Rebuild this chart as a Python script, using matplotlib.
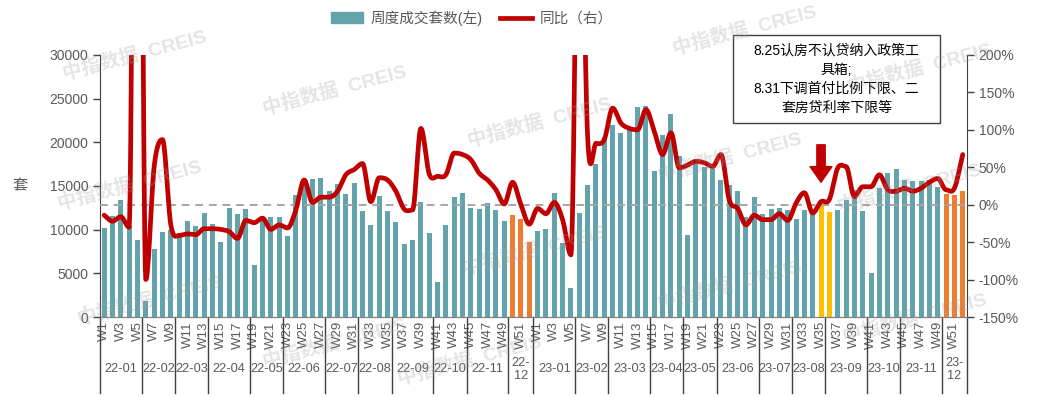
import numpy as np
import matplotlib
matplotlib.use("Agg")
import matplotlib.pyplot as plt
from matplotlib.patches import Patch, Rectangle
from matplotlib.lines import Line2D
import matplotlib.transforms as mtransforms

plt.rcParams['font.family'] = ['Liberation Sans', 'Noto Sans CJK SC', 'DejaVu Sans']
plt.rcParams['axes.unicode_minus'] = False

# months and number of weeks in each (2022 then 2023)
months = ['22-01', '22-02', '22-03', '22-04', '22-05', '22-06', '22-07', '22-08',
          '22-09', '22-10', '22-11', '22-12',
          '23-01', '23-02', '23-03', '23-04', '23-05', '23-06', '23-07', '23-08',
          '23-09', '23-10', '23-11', '23-12']
weeks_per_month = [5, 4, 4, 5, 4, 5, 4, 4, 5, 4, 5, 3,
                   5, 4, 5, 4, 4, 5, 4, 4, 5, 4, 5, 3]

# weekly transactions (sets)
sales_2022 = [10150, 11600, 13400, 10400, 8850, 1870, 7800, 9700, 10000, 9600,
              11000, 10450, 11900, 10600, 8600, 12450, 11750, 12350, 6000, 11050,
              11450, 11450, 9300, 13950, 15850, 15820, 15900, 14480, 15210, 14100,
              15290, 12080, 10560, 13910, 12080, 10900, 8310, 8840, 13150, 9570,
              4000, 10480, 13720, 14180, 12500, 12390, 13080, 12280, 10940, 11630,
              11250, 8620]
sales_2023 = [9800, 10100, 14200, 8420, 3320, 11890, 15100, 17500, 20600, 21950,
              21050, 21450, 24100, 24200, 16730, 20850, 23210, 18450, 9420, 17610,
              17230, 17000, 15630, 15100, 14450, 11480, 13760, 11820, 12350, 12470,
              12240, 11250, 12200, 11780, 12770, 11970, 12200, 13420, 14560, 12160,
              5030, 14750, 16540, 16890, 15670, 15550, 15520, 15630, 14830, 14100,
              13990, 14370]

# year-on-year change (%)
yoy_2022 = [-14, -22, -16, -30, 1200, -100, 51, 87, -27, -41,
            -39, -40, -32, -32, -33, -36, -45, -21, -24, -18,
            -33, -27, -31, -7, 33, 3, 10, 10, 18, 40,
            47, 55, 4, 36, 33, 18, -6, -7, 102, 41,
            38, 40, 69, 67, 60, 42, 33, 20, 1, 30,
            0, -26]
yoy_2023 = [-5, -12, 3, -20, -67, 540, 91, 82, 87, 129,
            109, 102, 100, 127, 98, 67, 96, 49, 53, 58,
            56, 51, 67, 6, -5, -27, -14, -20, -20, -12,
            -21, 2, 16, -11, 4, 7, 49, 51, 11, 24,
            24, 40, 20, 18, 22, 18, 22, 30, 35, 20,
            22, 67]

# highlighted weeks
orange_weeks = [('22', 50), ('22', 51), ('22', 52), ('23', 50), ('23', 51), ('23', 52)]
yellow_weeks = [('23', 35), ('23', 36)]

note_text = "8.25认房不认贷纳入政策工\n具箱;\n8.31下调首付比例下限、二\n套房贷利率下限等"

TEAL = '#62A3AC'
ORANGE = '#ED7D31'
YELLOW = '#FFC000'
RED = '#C00000'
GREY = '#595959'


def smooth(y, steps=16):
    y = np.asarray(y, float)
    n = len(y)
    d = np.diff(y)
    m = np.zeros(n)
    m[0], m[-1] = d[0], d[-1]
    for i in range(1, n - 1):
        if d[i - 1] * d[i] > 0:
            m[i] = (d[i - 1] + d[i]) / 2
    t = np.linspace(0, 1, steps, endpoint=False)
    h00 = 2 * t**3 - 3 * t**2 + 1
    h10 = t**3 - 2 * t**2 + t
    h01 = -2 * t**3 + 3 * t**2
    h11 = t**3 - t**2
    xs, ys = [], []
    for i in range(n - 1):
        xs.append(i + t)
        ys.append(h00 * y[i] + h10 * m[i] + h01 * y[i + 1] + h11 * m[i + 1])
    xs.append([n - 1])
    ys.append([y[-1]])
    return np.concatenate(xs), np.concatenate(ys)


sales = sales_2022 + sales_2023
yoy = yoy_2022 + yoy_2023
year_of = ['22'] * len(sales_2022) + ['23'] * len(sales_2023)
week_no = list(range(1, len(sales_2022) + 1)) + list(range(1, len(sales_2023) + 1))
x = np.arange(len(sales))

colors = []
for yr, wk in zip(year_of, week_no):
    if (yr, wk) in orange_weeks:
        colors.append(ORANGE)
    elif (yr, wk) in yellow_weeks:
        colors.append(YELLOW)
    else:
        colors.append(TEAL)

fig = plt.figure(figsize=(10.37, 3.97), dpi=100)
ax = fig.add_axes([0.0964, 0.2015, 0.836, 0.66])
ax2 = ax.twinx()

ax.bar(x, sales, width=0.6, color=colors, zorder=2)
ax.set_xlim(-0.5, len(sales) - 0.5)
ax.set_ylim(0, 30000)
ax.set_yticks(range(0, 30001, 5000))

ax2.axhline(0, color='#A6A6A6', lw=1.4, ls=(0, (4, 3)), zorder=1)
sx, sy = smooth(yoy)
ax2.plot(sx, sy, color=RED, lw=3.4, solid_capstyle='round', zorder=3)
ax2.set_ylim(-150, 200)
ax2.set_yticks(range(-150, 201, 50))
ax2.set_yticklabels(['%d%%' % v for v in range(-150, 201, 50)])

for a in (ax, ax2):
    a.tick_params(axis='y', labelsize=10, labelcolor=GREY, color='#404040',
                  length=5, direction='out', width=1)
    a.spines['top'].set_visible(False)
    a.spines['left'].set_color('#404040')
    a.spines['right'].set_color('#404040')
    a.spines['bottom'].set_color('#808080')
ax.spines['right'].set_visible(False)
ax2.spines['left'].set_visible(False)

# week tick labels (odd weeks)
odd = [i for i in x if week_no[i] % 2 == 1]
ax.set_xticks(odd)
ax.set_xticklabels(['W%d' % week_no[i] for i in odd], rotation=90, fontsize=9.5,
                   color=GREY)
ax.tick_params(axis='x', length=0, pad=3)

# month groups
trans = mtransforms.blended_transform_factory(ax.transData, ax.transAxes)
start = 0
edges = [-0.5]
for name, n in zip(months, weeks_per_month):
    mid = start + (n - 1) / 2
    label = name if n > 3 else name.replace('-', '-\n')
    ax.text(mid, -0.2, label, transform=trans, ha='center', va='center',
            fontsize=9.2, color=GREY, linespacing=1.1)
    start += n
    edges.append(start - 0.5)
for e in edges:
    ax.add_line(Line2D([e, e], [0, -0.29], transform=trans, color='#404040',
                       lw=1, clip_on=False))

ax.set_ylabel('套', rotation=0, fontsize=11, color=GREY, va='center')
ax.yaxis.set_label_coords(-0.092, 0.5)

# legend
handles = [Patch(color=TEAL), Line2D([], [], color=RED, lw=3.4)]
fig.legend(handles, ['周度成交套数(左)', '同比（右）'], loc='center',
           bbox_to_anchor=(0.455, 0.955), ncol=2, frameon=False, fontsize=10.5,
           handlelength=2.2, columnspacing=1.2, handletextpad=0.5,
           labelcolor=GREY)

# policy note box
fig.add_artist(Rectangle((733 / 1037, 1 - 123 / 397), 207 / 1037, 88 / 397,
                         transform=fig.transFigure, facecolor='white',
                         edgecolor='#404040', lw=1, zorder=5))
fig.text(836.5 / 1037, 1 - 79 / 397, note_text, ha='center', va='center',
         fontsize=10, linespacing=1.45, color='black', zorder=6)

# arrow over the policy weeks
arrow_x = x[year_of.index('23') + yellow_weeks[0][1] - 1]
ax2.annotate('', xy=(arrow_x, 30), xytext=(arrow_x, 80),
             arrowprops=dict(arrowstyle='simple,head_length=0.75,head_width=1.05,tail_width=0.4',
                             color=RED, shrinkA=0, shrinkB=0, mutation_scale=15),
             zorder=6)

# watermarks
for px, py in [(135, 55), (335, 90), (745, 30), (920, 68),
               (130, 185), (540, 122), (730, 157), (910, 188),
               (150, 300), (335, 343), (535, 250), (730, 285), (915, 318),
               (470, 360)]:
    fig.text(px / 1037, 1 - py / 397, '中指数据  CREIS', ha='center', va='center',
             rotation=15, fontsize=14, fontweight='bold', color='#A0A0A0',
             alpha=0.28, zorder=10)

fig.savefig('out.png', dpi=100)
